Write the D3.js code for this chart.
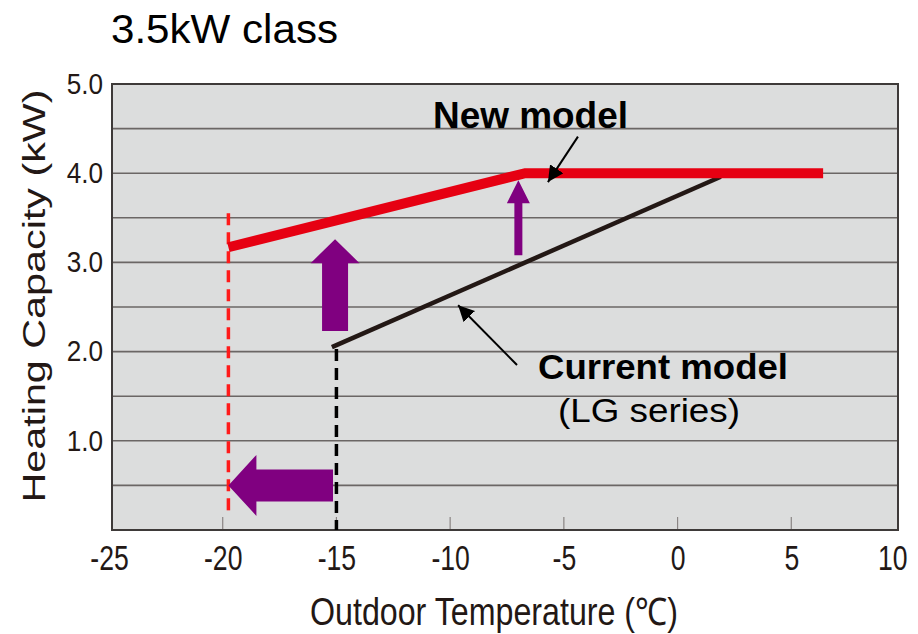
<!DOCTYPE html>
<html>
<head>
<meta charset="utf-8">
<script src="https://cdn.jsdelivr.net/npm/d3@7"></script>
<style>
  body { margin: 0; background: #fff; }
  svg { display: block; }
</style>
</head>
<body>
<svg id="chart" width="918" height="634"></svg>
<script>
// data
var tempTicks = [-25, -20, -15, -10, -5, 0, 5, 10];
var capTicks = [1, 2, 3, 4, 5];
var gridLevels = [0.5, 1, 1.5, 2, 2.5, 3, 3.5, 4, 4.5];

var newModelTemp = [-19.75, -6.7, 6.4];
var newModelCap = [3.17, 4.0, 4.0];
var currentModelTemp = [-15.2, 1.9];
var currentModelCap = [2.05, 3.96];

// lower operating limits (dashed verticals)
var limitTemp = [-19.75, -15.0];
var limitCapTop = [3.55, 2.03];
var limitCapBottom = [0.2, 0];

var svg = d3.select('#chart');

var box = { left: 112, right: 898, top: 84, bottom: 530 };

var x = d3.scaleLinear().domain([-25, 10]).range([109, 905]),
    y = d3.scaleLinear().domain([0, 5]).range([530, 84]);

var ink = '#231815',
    purple = '#800080',
    red = '#e60012';

// squeeze text to a set width (the original lettering is condensed / stretched)
function fitWidth(sel, w) {
  sel.attr('textLength', w).attr('lengthAdjust', 'spacingAndGlyphs');
}
function squeeze(sel, k) {
  sel.each(function() {
    var len = this.getComputedTextLength();
    d3.select(this).attr('textLength', len * k).attr('lengthAdjust', 'spacingAndGlyphs');
  });
}

svg.append('defs').append('marker')
    .attr('id', 'tip')
    .attr('viewBox', '0 0 10 10')
    .attr('refX', 10).attr('refY', 5)
    .attr('markerWidth', 8).attr('markerHeight', 8)
    .attr('markerUnits', 'strokeWidth')
    .attr('orient', 'auto')
  .append('path')
    .attr('d', 'M0,0 L10,5 L0,10 Z')
    .style('fill', '#000');

// title
svg.append('text')
    .attr('x', 111).attr('y', 43)
    .style('font-family', 'Liberation Sans, Arial, sans-serif')
    .style('font-size', '41px')
    .style('fill', '#000')
    .text('3.5kW class')
    .call(fitWidth, 227);

// plot background
svg.append('rect')
    .attr('x', box.left).attr('y', box.top)
    .attr('width', box.right - box.left).attr('height', box.bottom - box.top)
    .style('fill', '#dcdddd');

// horizontal grid
svg.append('g').selectAll('line')
    .data(gridLevels)
  .enter().append('line')
    .attr('x1', box.left).attr('x2', box.right)
    .attr('y1', function(d) { return y(d); })
    .attr('y2', function(d) { return y(d); })
    .style('stroke', '#6b6665')
    .style('stroke-width', 1.6);

// small inner ticks on the bottom edge
svg.append('g').selectAll('line')
    .data(tempTicks.slice(1, -1))
  .enter().append('line')
    .attr('x1', function(d) { return x(d); })
    .attr('x2', function(d) { return x(d); })
    .attr('y1', box.bottom).attr('y2', box.bottom - 13)
    .style('stroke', '#8a8584')
    .style('stroke-width', 1.2);

// frame
svg.append('rect')
    .attr('x', box.left).attr('y', box.top)
    .attr('width', box.right - box.left).attr('height', box.bottom - box.top)
    .style('fill', 'none')
    .style('stroke', '#3e3a39')
    .style('stroke-width', 2);

// axes
var xAxis = svg.append('g')
    .attr('transform', 'translate(0,' + box.bottom + ')')
    .call(d3.axisBottom(x).tickValues(tempTicks).tickSize(0).tickPadding(15)
      .tickFormat(function(d) { return String(d); }));
xAxis.select('.domain').remove();
xAxis.selectAll('text')
    .style('font-family', 'Liberation Sans, Arial, sans-serif')
    .style('font-size', '35px')
    .style('fill', ink)
    .call(squeeze, 0.76);
// last label sits against the right edge of the page
xAxis.selectAll('text').filter(function(d) { return d === 10; })
    .attr('text-anchor', 'end')
    .attr('x', 2);

var yAxis = svg.append('g')
    .attr('transform', 'translate(' + box.left + ',0)')
    .call(d3.axisLeft(y).tickValues(capTicks).tickSize(0).tickPadding(9).tickFormat(d3.format('.1f')));
yAxis.select('.domain').remove();
yAxis.selectAll('text')
    .style('font-family', 'Liberation Sans, Arial, sans-serif')
    .style('font-size', '29px')
    .style('fill', ink)
    .call(squeeze, 0.9);

// axis titles
svg.append('text')
    .attr('x', 494).attr('y', 625)
    .attr('text-anchor', 'middle')
    .style('font-family', 'Liberation Sans, Arial, sans-serif')
    .style('font-size', '38px')
    .style('fill', ink)
    .text('Outdoor Temperature (\u2103)')
    .call(fitWidth, 368);

svg.append('text')
    .attr('transform', 'translate(45,296) rotate(-90)')
    .attr('text-anchor', 'middle')
    .style('font-family', 'Liberation Sans, Arial, sans-serif')
    .style('font-size', '32px')
    .style('fill', ink)
    .text('Heating Capacity (kW)')
    .call(fitWidth, 413);

// dashed lower limits
var limits = limitTemp.map(function(t, i) {
  return { t: t, top: limitCapTop[i], bottom: limitCapBottom[i], color: i === 0 ? '#ff1a1a' : '#000' };
});
svg.append('g').selectAll('line')
    .data(limits)
  .enter().append('line')
    .attr('x1', function(d) { return x(d.t); })
    .attr('x2', function(d) { return x(d.t); })
    .attr('y1', function(d) { return y(d.top); })
    .attr('y2', function(d) { return y(d.bottom); })
    .style('stroke', function(d) { return d.color; })
    .style('stroke-width', 3.5)
    .style('stroke-dasharray', '12,7');

var line = d3.line()
    .x(function(d) { return x(d[0]); })
    .y(function(d) { return y(d[1]); });

// current model
svg.append('path')
    .datum(d3.zip(currentModelTemp, currentModelCap))
    .attr('d', line)
    .style('fill', 'none')
    .style('stroke', ink)
    .style('stroke-width', 4.5);

// new model
svg.append('path')
    .datum(d3.zip(newModelTemp, newModelCap))
    .attr('d', line)
    .style('fill', 'none')
    .style('stroke', red)
    .style('stroke-width', 10)
    .style('stroke-linejoin', 'miter');

// purple block arrows (from -> to in data units, sizes in px)
var blockArrows = [
  { t0: -15.06, c0: 2.23, t1: -15.06, c1: 3.26, shaft: 26, head: 49, len: 24 },
  { t0: -7.0, c0: 3.08, t1: -7.0, c1: 3.92, shaft: 8, head: 23, len: 23 },
  { t0: -15.15, c0: 0.5, t1: -19.75, c1: 0.5, shaft: 32, head: 61, len: 28 }
];

function blockPath(d) {
  var x0 = x(d.t0), y0 = y(d.c0), x1 = x(d.t1), y1 = y(d.c1);
  var dx = x1 - x0, dy = y1 - y0, L = Math.sqrt(dx * dx + dy * dy);
  var ux = dx / L, uy = dy / L, nx = -uy, ny = ux;
  var bx = x1 - ux * d.len, by = y1 - uy * d.len;
  var s = d.shaft / 2, h = d.head / 2;
  var pts = [
    [x0 + nx * s, y0 + ny * s],
    [bx + nx * s, by + ny * s],
    [bx + nx * h, by + ny * h],
    [x1, y1],
    [bx - nx * h, by - ny * h],
    [bx - nx * s, by - ny * s],
    [x0 - nx * s, y0 - ny * s]
  ];
  return 'M' + pts.map(function(p) { return p.join(','); }).join('L') + 'Z';
}

svg.append('g').selectAll('path')
    .data(blockArrows)
  .enter().append('path')
    .attr('d', blockPath)
    .style('fill', purple);

// callout arrows
var callouts = [
  { t0: -4.38, c0: 4.41, t1: -5.7, c1: 3.9 },
  { t0: -7.06, c0: 1.85, t1: -9.65, c1: 2.52 }
];
svg.append('g').selectAll('line')
    .data(callouts)
  .enter().append('line')
    .attr('x1', function(d) { return x(d.t0); })
    .attr('y1', function(d) { return y(d.c0); })
    .attr('x2', function(d) { return x(d.t1); })
    .attr('y2', function(d) { return y(d.c1); })
    .attr('marker-end', 'url(#tip)')
    .style('stroke', '#000')
    .style('stroke-width', 2);

// labels
svg.append('text')
    .attr('x', 433).attr('y', 128)
    .style('font-family', 'Liberation Sans, Arial, sans-serif')
    .style('font-size', '36px')
    .style('font-weight', 'bold')
    .style('fill', '#000')
    .text('New model')
    .call(fitWidth, 195);

svg.append('text')
    .attr('x', 538).attr('y', 379)
    .style('font-family', 'Liberation Sans, Arial, sans-serif')
    .style('font-size', '35px')
    .style('font-weight', 'bold')
    .style('fill', '#000')
    .text('Current model')
    .call(fitWidth, 250);

svg.append('text')
    .attr('x', 558).attr('y', 422)
    .style('font-family', 'Liberation Sans, Arial, sans-serif')
    .style('font-size', '33px')
    .style('fill', '#000')
    .text('(LG series)')
    .call(fitWidth, 182);
</script>
</body>
</html>
